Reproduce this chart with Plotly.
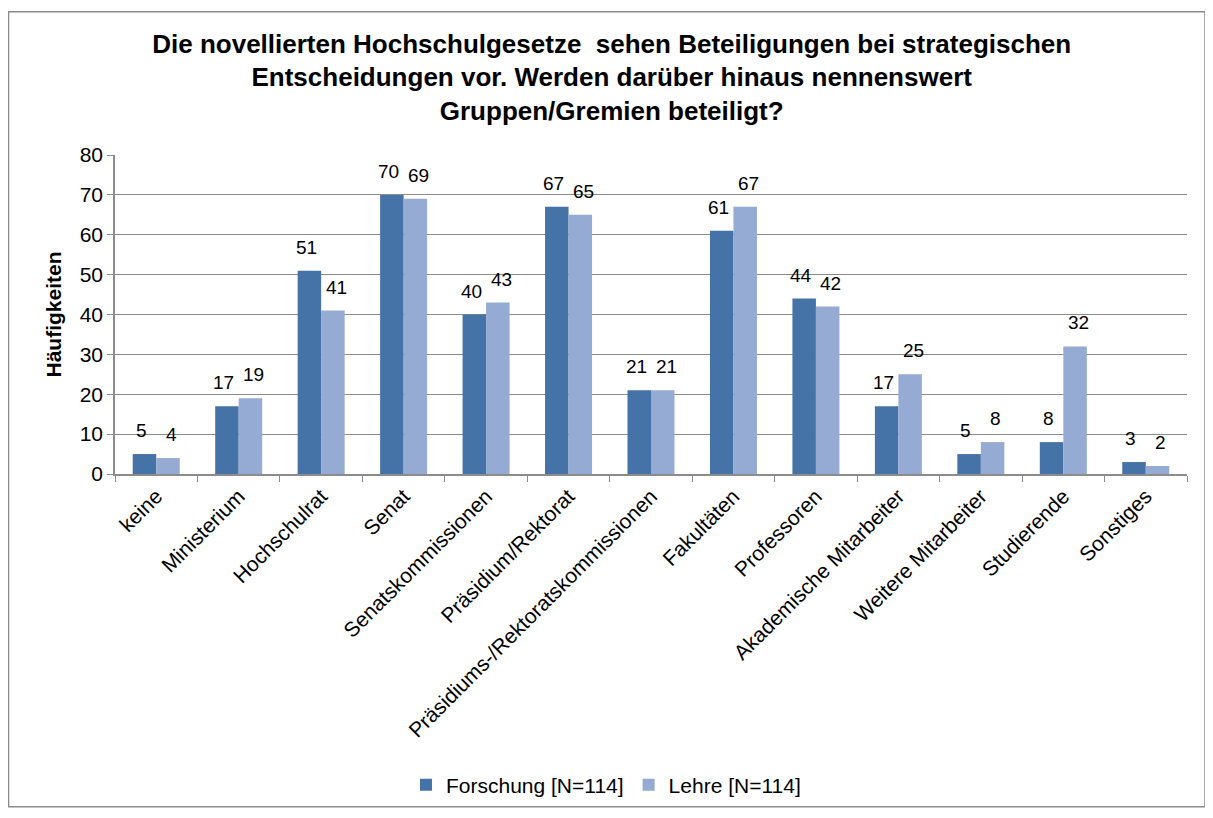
import plotly.graph_objects as go

categories = ['keine', 'Ministerium', 'Hochschulrat', 'Senat', 'Senatskommissionen',
              'Präsidium/Rektorat', 'Präsidiums-/Rektoratskommissionen', 'Fakultäten',
              'Professoren', 'Akademische Mitarbeiter', 'Weitere Mitarbeiter',
              'Studierende', 'Sonstiges']
forschung = [5, 17, 51, 70, 40, 67, 21, 61, 44, 17, 5, 8, 3]
lehre = [4, 19, 41, 69, 43, 65, 21, 67, 42, 25, 8, 32, 2]

font_family = 'Liberation Sans, Arial, sans-serif'

fig = go.Figure()
fig.add_trace(go.Bar(
    x=categories, y=forschung, name='Forschung [N=114]',
    marker_color='#4673A7', marker_line_width=0
))
fig.add_trace(go.Bar(
    x=categories, y=lehre, name='Lehre [N=114]',
    marker_color='#95ABD3', marker_line_width=0
))

# value labels, pushed a bit apart like the original chart
for series, shift in ((forschung, -15), (lehre, 15)):
    for cat, val in zip(categories, series):
        fig.add_annotation(x=cat, y=val, xref='x', yref='y', text=str(val),
                           showarrow=False, xshift=shift, yshift=11,
                           yanchor='bottom', font=dict(size=19, color='black'))

# outer frame around the whole chart
fig.add_shape(type='rect', xref='paper', yref='paper',
              x0=-0.0993, x1=1.0168, y0=-1.0433, y1=1.449,
              line=dict(color='#8c8c8c', width=1.5), fillcolor='rgba(0,0,0,0)')

fig.update_layout(
    width=1205, height=810,
    margin=dict(l=107, r=26, t=147, b=340),
    paper_bgcolor='white', plot_bgcolor='white',
    font=dict(family=font_family, color='black'),
    barmode='group', bargap=0.43, bargroupgap=0,
    title=dict(
        text='Die novellierten Hochschulgesetze  sehen Beteiligungen bei strategischen<br>'
             'Entscheidungen vor. Werden darüber hinaus nennenswert<br>'
             'Gruppen/Gremien beteiligt?',
        x=0.501, xanchor='center', y=0.945, yanchor='top',
        font=dict(size=26, family=font_family, weight='bold')
    ),
    legend=dict(orientation='h', x=0.458, xanchor='center', y=-0.975, yanchor='middle',
                font=dict(size=21), itemwidth=30, traceorder='normal'),
    showlegend=True,
)

fig.update_xaxes(
    type='category', tickson='boundaries', ticks='outside', ticklen=6,
    tickcolor='#8c8c8c', showline=True, linecolor='#8c8c8c', linewidth=1.5,
    showgrid=False, tickangle=-45, tickfont=dict(size=21)
)
fig.update_yaxes(
    range=[0, 80], dtick=10, ticks='outside', ticklen=6, tickcolor='#8c8c8c',
    showline=True, linecolor='#8c8c8c', linewidth=1.5,
    showgrid=True, gridcolor='#8c8c8c', gridwidth=1.2,
    tickfont=dict(size=21),
    title=dict(text='<b>Häufigkeiten</b>', font=dict(size=21), standoff=12)
)

fig.write_html('out.html')
